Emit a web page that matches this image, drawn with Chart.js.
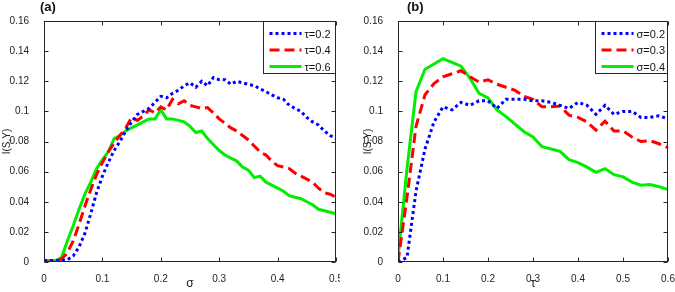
<!DOCTYPE html>
<html><head><meta charset="utf-8">
<script src="https://cdn.jsdelivr.net/npm/chart.js@4.4.0/dist/chart.umd.min.js"></script>
<style>
html,body{margin:0;padding:0;background:#fff;}
#wrap{position:relative;width:675px;height:292px;overflow:hidden;background:#fff;}
.pan{position:absolute;top:0;height:292px;}
#pa{left:0;width:340px;}
#pb{left:337px;width:338px;}
.lab{position:absolute;top:0;font:bold 13px "Liberation Sans",Arial,sans-serif;color:#111;}
</style></head>
<body><div id="wrap">
<div class="pan" id="pa"><canvas id="ca"></canvas></div>
<div class="pan" id="pb"><canvas id="cb"></canvas></div>
<div class="lab" style="left:40px;top:-1px">(a)</div>
<div class="lab" style="left:407px;top:-1px">(b)</div>
</div>
<script>
// ---------- Panel (a): I(S,Y) vs sigma ----------
const sigmaA = [0,0.01,0.02,0.03,0.04,0.05,0.06,0.07,0.08,0.09,0.10,0.11,0.12,0.13,0.14,0.15,0.16,0.17,0.18,0.19,0.20,0.21,0.22,0.23,0.24,0.25,0.26,0.27,0.28,0.29,0.30,0.31,0.32,0.33,0.34,0.35,0.36,0.37,0.38,0.39,0.40,0.41,0.42,0.43,0.44,0.45,0.46,0.47,0.48,0.49,0.50];
const tau02 = [0.001,0.001,0.001,0.001,0.0015,0.004,0.010,0.019,0.032,0.046,0.057,0.066,0.074,0.080,0.087,0.093,0.098,0.100,0.102,0.106,0.110,0.109,0.112,0.114,0.117,0.119,0.116,0.120,0.117,0.1225,0.121,0.121,0.118,0.120,0.119,0.118,0.117,0.115,0.113,0.111,0.109,0.108,0.104,0.102,0.100,0.096,0.093,0.091,0.087,0.084,0.082];
const tau04 = [0.000,0.000,0.0005,0.002,0.006,0.014,0.025,0.037,0.048,0.058,0.066,0.073,0.079,0.084,0.089,0.096,0.094,0.097,0.101,0.099,0.103,0.101,0.108,0.105,0.107,0.104,0.103,0.102,0.1025,0.099,0.095,0.092,0.089,0.087,0.084,0.081,0.077,0.073,0.071,0.067,0.064,0.063,0.062,0.059,0.057,0.055,0.053,0.049,0.046,0.045,0.043];
const tau06 = [0.001,0.001,0.001,0.003,0.014,0.024,0.035,0.045,0.053,0.062,0.068,0.073,0.082,0.084,0.087,0.089,0.091,0.093,0.095,0.095,0.101,0.095,0.095,0.094,0.093,0.090,0.086,0.087,0.082,0.078,0.074,0.071,0.069,0.067,0.063,0.061,0.056,0.057,0.053,0.051,0.049,0.047,0.044,0.043,0.042,0.040,0.038,0.035,0.034,0.033,0.032];
const xTicksA = [0,0.1,0.2,0.3,0.4,0.5];

// ---------- Panel (b): I(S,Y) vs tau ----------
const tauB = [0,0.02,0.04,0.06,0.08,0.10,0.12,0.14,0.16,0.18,0.20,0.22,0.24,0.26,0.28,0.30,0.32,0.34,0.36,0.38,0.40,0.42,0.44,0.46,0.48,0.50,0.52,0.54,0.56,0.58,0.60];
const sig02 = [0,0.003,0.047,0.075,0.093,0.103,0.101,0.106,0.104,0.107,0.107,0.102,0.108,0.108,0.108,0.107,0.107,0.106,0.104,0.102,0.106,0.104,0.098,0.104,0.098,0.100,0.100,0.096,0.096,0.097,0.095];
const sig03 = [0,0.043,0.090,0.111,0.1185,0.123,0.125,0.127,0.123,0.1195,0.121,0.118,0.116,0.114,0.110,0.108,0.103,0.103,0.1035,0.0975,0.096,0.093,0.0875,0.0935,0.087,0.087,0.083,0.080,0.0805,0.0785,0.076];
const sig04 = [0.003,0.062,0.113,0.128,0.1315,0.135,0.1325,0.130,0.122,0.112,0.109,0.101,0.0965,0.0915,0.0865,0.083,0.0765,0.075,0.0735,0.068,0.066,0.063,0.0595,0.062,0.058,0.0565,0.053,0.051,0.0515,0.050,0.048];
const xTicksB = [0,0.1,0.2,0.3,0.4,0.5,0.6];

const yTicks = [0,0.02,0.04,0.06,0.08,0.1,0.12,0.14,0.16];
const labelsA = ['\u03c4=0.2','\u03c4=0.4','\u03c4=0.6'];
const labelsB = ['\u03c3=0.2','\u03c3=0.3','\u03c3=0.4'];

const FONT = '"Liberation Sans", Arial, sans-serif';
const INK = '#262626';

function pts(xs, ys){ return xs.map((x,i)=>({x:x,y:ys[i]})); }

const framePlugin = {
  id:'frame',
  afterDatasetsDraw(chart){
    const {ctx, chartArea:a, scales} = chart;
    ctx.save();
    ctx.strokeStyle = INK; ctx.lineWidth = 1;
    const L = Math.round(a.left)+0.5, R = Math.round(a.right)-0.5, T = Math.round(a.top)+0.5, B = Math.round(a.bottom)-0.5;
    ctx.strokeRect(L, T, R-L, B-T);
    ctx.beginPath();
    scales.x.ticks.forEach(t=>{
      const px = Math.round(scales.x.getPixelForValue(t.value))+0.5;
      ctx.moveTo(px,B); ctx.lineTo(px,B-4);
      ctx.moveTo(px,T); ctx.lineTo(px,T+4);
    });
    scales.y.ticks.forEach(t=>{
      const py = Math.round(scales.y.getPixelForValue(t.value))+0.5;
      ctx.moveTo(L,py); ctx.lineTo(L+4,py);
      ctx.moveTo(R,py); ctx.lineTo(R-4,py);
    });
    ctx.stroke();
    // legend box
    const w = 72, h = 52;
    const bx = Math.round(a.right) - w - 0.5, by = Math.round(a.top)+0.5;
    ctx.fillStyle = '#fff';
    ctx.fillRect(bx, by, w, h);
    ctx.strokeRect(bx, by, w, h);
    chart.data.datasets.forEach((ds,i)=>{
      const yy = by + 12 + i*16.5;
      ctx.save();
      ctx.strokeStyle = ds.borderColor; ctx.lineWidth = ds.borderWidth;
      ctx.setLineDash(ds.borderDash || []);
      ctx.beginPath(); ctx.moveTo(bx+6, yy); ctx.lineTo(bx+38, yy); ctx.stroke();
      ctx.restore();
      ctx.fillStyle = '#111';
      ctx.font = '11px ' + FONT;
      ctx.textBaseline = 'middle';
      ctx.fillText(ds.label, bx+41, yy+1);
    });
    ctx.restore();
  }
};

function makeChart(id, xs, series, labels, xTicks, xMax, xTitle, padLeft, padRight, yWidth){
  const styles = [
    {borderColor:'#0000ff', borderDash:[3,3]},
    {borderColor:'#ff0000', borderDash:[10,5]},
    {borderColor:'#00ee00', borderDash:[]}
  ];
  return new Chart(document.getElementById(id), {
    type:'line',
    data:{ datasets: series.map((s,i)=>({
      label: labels[i], data: pts(xs, s),
      borderColor: styles[i].borderColor, borderDash: styles[i].borderDash,
      borderWidth: 3, pointRadius: 0, tension: 0, fill:false, borderCapStyle:'butt'
    }))},
    options:{
      responsive:true, maintainAspectRatio:false, animation:false,
      layout:{padding:{left:padLeft, right:padRight, top:21, bottom:0}},
      plugins:{legend:{display:false}, tooltip:{enabled:false}},
      scales:{
        x:{type:'linear', min:0, max:xMax,
          afterBuildTicks:s=>{s.ticks = xTicks.map(v=>({value:v}));},
          afterFit:s=>{s.height = 30; s.paddingLeft = 0; s.paddingRight = 0;},
          grid:{display:false}, border:{display:false},
          ticks:{padding:3, color:'#222', maxRotation:0, autoSkip:false, font:{family:FONT, size:10}, callback:v=>String(v)},
          title:{display:true, text:xTitle, color:'#222', font:{family:FONT, size:12}, padding:{top:0,bottom:1}}
        },
        y:{type:'linear', min:0, max:0.16,
          afterBuildTicks:s=>{s.ticks = yTicks.map(v=>({value:v}));},
          afterFit:s=>{s.width = yWidth;},
          grid:{display:false}, border:{display:false},
          ticks:{padding:7, color:'#222', autoSkip:false, font:{family:FONT, size:10}, callback:v=>String(v)},
          title:{display:true, text:'I(S,Y)', color:'#222', font:{family:FONT, size:10}, padding:{top:1,bottom:0}}
        }
      }
    },
    plugins:[framePlugin]
  });
}

makeChart('ca', sigmaA, [tau02,tau04,tau06], labelsA, xTicksA, 0.5, '\u03c3', 0, 4, 44);
makeChart('cb', tauB, [sig02,sig03,sig04], labelsB, xTicksB, 0.6, '\u03c4', 24, 7, 37);
</script>
</body></html>
